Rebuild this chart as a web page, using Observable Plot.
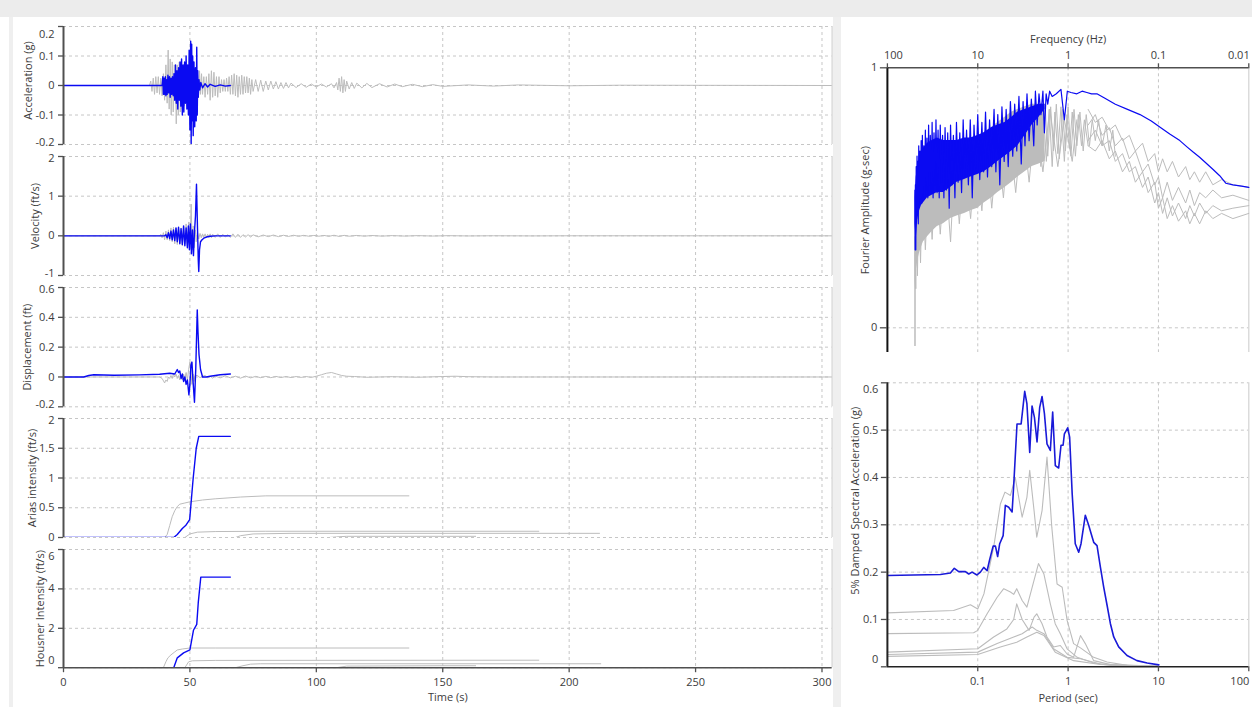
<!DOCTYPE html>
<html><head><meta charset="utf-8">
<script src="https://cdn.jsdelivr.net/npm/d3@7"></script>
<script src="https://cdn.jsdelivr.net/npm/@observablehq/plot@0.6"></script>
<style>
html,body{margin:0;padding:0;background:#fff;}
body{width:1252px;height:707px;overflow:hidden;position:relative;font-family:"Open Sans","Noto Sans",sans-serif;}
.bg{position:absolute;background:#ececec;}
</style></head><body>
<div class="bg" style="left:0;top:0;width:1252px;height:17px;"></div>
<div class="bg" style="left:9px;top:17px;width:4px;height:690px;background:#efefef;"></div>
<div class="bg" style="left:833px;top:17px;width:8px;height:690px;background:#efefef;"></div>
<script>
// ---------- tick labels ----------
const timeTicks = [0, 50, 100, 150, 200, 250, 300];
const accTicks = [-0.2, -0.1, 0, 0.1, 0.2];
const velTicks = [-1, 0, 1, 2];
const dispTicks = [-0.2, 0, 0.2, 0.4, 0.6];
const ariasTicks = [0, 0.5, 1, 1.5, 2];
const housnerTicks = [0, 2, 4, 6];
const freqTicks = [100, 10, 1, 0.1, 0.01];
const fourierTicks = [0, 1];
const periodTicks = [0.1, 1, 10, 100];
const saTicks = [0, 0.1, 0.2, 0.3, 0.4, 0.5, 0.6];

// ---------- acceleration (g) [t, value] ----------
const accBlue = [[0,0],[39,0],[39.3,0.03],[39.5,-0.03],[39.8,0.025],[40,-0.03],[40.3,0.03],[40.5,-0.035],[40.8,0.02],[41,-0.03],[41.3,0.035],[41.6,-0.025],[41.9,0.03],[42.2,-0.04],[42.5,0.025],[42.8,-0.03],[43.1,0.03],[43.4,-0.035],[43.7,0.04],[44,-0.05],[44.3,0.07],[44.6,-0.06],[44.9,0.05],[45.2,-0.08],[45.5,0.06],[45.8,-0.05],[46.1,0.08],[46.4,-0.07],[46.7,0.09],[47,-0.1],[47.3,0.07],[47.6,-0.09],[47.9,0.08],[48.2,-0.06],[48.5,0.1],[48.8,-0.08],[49.1,0.07],[49.4,-0.1],[49.7,0.12],[50,-0.15],[50.3,0.15],[50.5,-0.2],[50.7,0.14],[50.9,-0.12],[51.1,0.1],[51.3,-0.17],[51.6,0.08],[51.9,-0.14],[52.2,0.06],[52.5,-0.12],[52.7,0.13],[52.9,-0.1],[53.1,0.05],[53.3,-0.04],[53.6,0.02],[53.9,-0.015],[54.3,0.01],[55,-0.008],[56,0.006],[57,-0.005],[58,0.004],[60,-0.003],[62,0.002],[64,-0.002],[66,0]];
const accGray = [[0,0],[34,0],[34.5,0.015],[35,-0.02],[35.5,0.025],[36,-0.03],[36.5,0.03],[37,-0.025],[37.5,0.03],[38,-0.03],[38.5,0.025],[39,-0.035],[39.5,0.04],[40,-0.05],[40.5,0.07],[41,-0.06],[41.4,0.12],[41.8,-0.08],[42.2,0.09],[42.6,-0.1],[43,0.08],[43.4,-0.09],[43.8,0.07],[44.2,0.06],[44.6,-0.13],[45,0.07],[45.4,-0.1],[45.8,0.08],[46.2,-0.09],[46.6,0.06],[47,-0.08],[47.4,0.07],[47.8,-0.07],[48.2,0.06],[48.6,-0.06],[49,0.05],[49.4,-0.06],[49.8,0.06],[50.2,-0.07],[50.6,0.05],[51,-0.05],[51.4,0.05],[51.8,-0.06],[52.2,0.04],[52.6,-0.05],[53,0.04],[53.4,-0.04],[53.8,0.05],[54.2,-0.03],[54.6,0.04],[55,-0.03],[55.5,0.03],[56,-0.04],[56.5,0.03],[57,-0.03],[57.5,0.04],[58,-0.05],[58.5,0.05],[59,-0.04],[59.5,0.045],[60,-0.035],[60.5,0.03],[61,-0.04],[61.5,0.03],[62,-0.025],[62.5,0.02],[63,-0.02],[63.5,0.02],[64,-0.02],[64.5,0.025],[65,-0.02],[65.5,0.03],[66,-0.03],[66.5,0.035],[67,-0.03],[67.5,0.04],[68,-0.035],[68.5,0.035],[69,-0.04],[69.5,0.03],[70,-0.03],[70.5,0.035],[71,-0.03],[71.5,0.03],[72,-0.025],[72.5,0.03],[73,-0.025],[73.5,0.025],[74,-0.03],[74.5,0.02],[75,-0.02],[76,0.02],[77,-0.02],[78,0.018],[79,-0.02],[80,0.015],[81,-0.015],[82,0.015],[83,-0.012],[84,0.013],[85,-0.012],[86,0.01],[87,-0.01],[88,0.01],[89,-0.008],[90,0.008],[92,-0.007],[94,0.006],[96,-0.006],[98,0.005],[100,-0.005],[102,0.005],[104,-0.005],[106,0.006],[107,-0.008],[108,0.01],[108.5,-0.015],[109,0.025],[109.5,-0.02],[110,0.03],[110.5,-0.025],[111,0.02],[111.5,-0.02],[112,0.015],[113,-0.012],[114,0.01],[115,-0.01],[116,0.008],[118,-0.008],[120,0.007],[122,-0.007],[125,0.006],[128,-0.005],[131,0.005],[134,-0.004],[138,0.004],[142,-0.004],[146,0.003],[150,-0.003],[160,0.002],[170,-0.002],[180,0.002],[200,-0.001],[220,0.001],[304,0]];

// ---------- velocity (ft/s) ----------
const velBlue = [[0,0],[40,0],[40.5,0.03],[41,-0.05],[41.5,0.08],[42,-0.07],[42.5,0.12],[43,-0.1],[43.5,0.15],[44,-0.12],[44.5,0.2],[45,-0.15],[45.5,0.22],[46,-0.2],[46.5,0.18],[47,-0.22],[47.5,0.25],[48,-0.25],[48.5,0.2],[49,-0.3],[49.4,0.25],[49.8,-0.35],[50.2,0.3],[50.6,-0.45],[51,0.15],[51.4,-0.5],[51.8,0.1],[52.2,0.5],[52.6,1.3],[53,0.2],[53.3,-0.6],[53.5,-0.9],[53.8,-0.35],[54.2,-0.15],[54.8,-0.1],[55.5,-0.06],[56.5,-0.03],[58,-0.01],[60,0],[66,0]];
const velGray = [[0,0],[38,0],[38.5,0.04],[39,-0.05],[39.5,0.08],[40,-0.1],[40.5,0.12],[41,-0.1],[41.5,0.15],[42,-0.12],[42.5,0.2],[43,-0.15],[43.5,0.22],[44,-0.2],[44.5,0.2],[45,-0.22],[45.5,0.18],[46,-0.2],[46.5,0.2],[47,-0.25],[47.5,0.22],[48,-0.2],[48.5,0.3],[49,-0.25],[49.5,0.35],[50,-0.2],[50.5,0.8],[50.9,-0.35],[51.3,0.25],[51.7,-0.3],[52.1,0.15],[52.5,-0.15],[53,0.1],[53.5,-0.08],[54,0.06],[54.5,-0.05],[55,0.05],[55.5,-0.04],[56,0.05],[56.5,-0.05],[57,0.04],[57.5,-0.04],[58,0.05],[58.5,-0.05],[59,0.04],[60,-0.04],[61,0.05],[62,-0.04],[63,0.04],[64,-0.03],[65,0.03],[66,-0.04],[67,0.05],[68,-0.04],[69,0.04],[70,-0.04],[71,0.03],[72,-0.03],[73,0.03],[74,-0.03],[75,0.025],[77,-0.025],[79,0.02],[81,-0.02],[83,0.02],[85,-0.02],[87,0.015],[89,-0.015],[91,0.015],[93,-0.012],[95,0.012],[97,-0.01],[99,0.01],[101,-0.01],[103,0.01],[105,-0.012],[107,0.015],[109,-0.015],[111,0.012],[113,-0.01],[116,0.01],[119,-0.008],[122,0.008],[126,-0.007],[130,0.006],[135,-0.006],[140,0.005],[146,-0.005],[152,0.004],[160,-0.003],[170,0.002],[185,-0.002],[200,0.001],[304,0]];

// ---------- displacement (ft) ----------
const dispBlue = [[0,0],[8,0],[10,0.01],[12,0.015],[20,0.012],[30,0.014],[38,0.018],[42,0.025],[44,0.02],[45,0.05],[45.5,0.03],[46,0.04],[46.5,-0.01],[47,0.02],[47.5,-0.03],[48,0.0],[48.5,-0.05],[49,-0.02],[49.6,-0.12],[50,-0.05],[50.4,0.08],[50.8,0.1],[51.2,-0.02],[51.8,-0.17],[52.3,0.05],[52.9,0.45],[53.2,0.3],[53.6,0.15],[54.2,0.05],[55,0.0],[56.5,0.0],[58,0.005],[62,0.015],[66,0.02]];
const dispGray = [[0,0],[38,0],[39,-0.01],[40,-0.04],[40.5,-0.02],[41,-0.03],[41.5,0],[42,-0.01],[42.5,0.01],[43,-0.01],[43.5,0.02],[44,0],[44.5,0.02],[45,-0.01],[45.5,0.01],[46,-0.02],[46.5,0.01],[47,-0.02],[47.5,0.02],[48,-0.01],[48.5,0.03],[49,-0.02],[49.5,0.05],[50,0.1],[50.4,0.03],[50.8,-0.05],[51.2,0.02],[51.6,-0.03],[52,0.01],[53,0.01],[54,-0.005],[55,0.005],[56,0.01],[57,-0.005],[58,0.005],[59,-0.008],[60,0.006],[62,-0.006],[64,0.008],[66,-0.006],[68,0.005],[70,-0.008],[72,0.006],[74,-0.006],[76,0.004],[78,-0.005],[80,0.004],[82,-0.005],[84,0.004],[86,-0.004],[88,0.003],[90,-0.004],[92,0.003],[94,-0.003],[96,0.003],[98,-0.003],[100,0.005],[102,0.015],[104,0.025],[106,0.03],[108,0.02],[110,0.01],[112,0.005],[115,0.003],[120,-0.002],[130,0.002],[140,-0.002],[150,0.003],[155,0.005],[160,0.002],[170,0],[304,0]];

// ---------- Arias intensity (ft/s) ----------
const ariasBlue = [[0,0],[43.6,0],[45,0.05],[46,0.1],[47,0.15],[48.3,0.2],[49.9,0.3],[50.5,0.6],[51.3,1.0],[52.5,1.5],[53.5,1.7],[66,1.7]];
const ariasGray1 = [[0,0],[40,0],[41,0.05],[42,0.2],[43,0.35],[44,0.45],[45,0.52],[46,0.56],[48,0.58],[50,0.6],[55,0.63],[60,0.65],[70,0.68],[80,0.7],[100,0.7],[136.6,0.7]];
const ariasGray2 = [[0,0],[48,0],[50,0.06],[53,0.09],[60,0.1],[80,0.105],[188,0.105]];
const ariasGray3 = [[0,0],[68,0],[70,0.03],[75,0.06],[90,0.07],[212,0.07]];
const ariasGray4 = [[0,0],[105,0],[108,0.01],[112,0.02],[163,0.02]];

// ---------- Housner intensity (ft/s) ----------
const housnerBlue = [[0,0],[43.6,0],[45,0.5],[47.5,0.75],[50,0.9],[51.4,1.9],[52.7,2.2],[53.3,3.3],[54.3,4.6],[66,4.6]];
const housnerGray1 = [[0,0],[39.5,0],[40.5,0.3],[41.3,0.5],[42.5,0.65],[44,0.8],[45,0.9],[47,0.95],[50,1.0],[60,1.0],[136.6,1.0]];
const housnerGray2 = [[0,0],[48,0],[49.5,0.3],[51,0.35],[60,0.37],[188,0.38]];
const housnerGray3 = [[0,0],[68,0],[71,0.1],[74,0.18],[78,0.2],[90,0.2],[212.5,0.2]];
const housnerGray4 = [[0,0],[108,0],[112,0.08],[150,0.1],[163,0.1]];

// ---------- Fourier amplitude: [frequency Hz, amplitude] ----------
const fourierBandFreq = [49.5,48,46,44,42,40,36,32,28,24,20,17,14,12,10,8.5,7,6,5,4.2,3.6,3,2.5,2.1,1.8];
const fourierBlueLo = [0.40,0.34,0.42,0.45,0.47,0.48,0.50,0.51,0.52,0.52,0.54,0.56,0.57,0.58,0.59,0.60,0.62,0.64,0.66,0.68,0.70,0.74,0.78,0.81,0.84];
const fourierBlueHi = [0.50,0.58,0.62,0.65,0.67,0.69,0.71,0.72,0.73,0.72,0.72,0.72,0.73,0.73,0.74,0.75,0.77,0.78,0.79,0.81,0.83,0.84,0.85,0.86,0.86];
const fourierGrayFreq = [49.5,48,46,44,42,40,36,32,28,24,20,17,14,12,10,8.5,7,6,5,4.2,3.6,3,2.5,2.1,1.8];
const fourierGrayLo = [0.15,0.22,0.26,0.29,0.31,0.33,0.35,0.37,0.39,0.40,0.42,0.43,0.44,0.45,0.46,0.48,0.50,0.52,0.54,0.56,0.58,0.60,0.62,0.63,0.64];
const fourierGrayHi = [0.40,0.50,0.55,0.58,0.60,0.62,0.64,0.66,0.67,0.68,0.69,0.70,0.71,0.72,0.73,0.75,0.77,0.79,0.81,0.83,0.84,0.85,0.86,0.86,0.86];
const fourierBlue = [[49.6,0.53],[49.3,0.3],[49,0.55],[48.5,0.3],[48,0.62],[47.5,0.42],[47,0.66],[46.5,0.45],[46,0.64],[45.5,0.4],[45,0.7],[44.3,0.47],[43.6,0.68],[43,0.5],[42.3,0.72],[41.6,0.48],[41,0.74],[40.3,0.52],[39.5,0.7],[38.8,0.5],[38,0.76],[37.2,0.53],[36.5,0.73],[35.7,0.5],[35,0.78],[34.2,0.55],[33.5,0.74],[32.7,0.52],[32,0.79],[31.2,0.5],[30.5,0.75],[29.7,0.55],[29,0.8],[28.2,0.52],[27.5,0.76],[26.7,0.5],[26,0.78],[25.2,0.56],[24.5,0.74],[23.7,0.5],[23,0.77],[22.2,0.53],[21.5,0.75],[20.7,0.46],[20,0.78],[19.3,0.55],[18.6,0.74],[17.9,0.5],[17.2,0.79],[16.5,0.56],[15.8,0.75],[15.1,0.52],[14.5,0.8],[13.9,0.58],[13.3,0.76],[12.7,0.55],[12.1,0.8],[11.5,0.5],[11,0.78],[10.5,0.6],[10,0.82],[9.5,0.57],[9,0.79],[8.6,0.6],[8.2,0.83],[7.8,0.58],[7.4,0.8],[7,0.62],[6.6,0.84],[6.3,0.6],[6,0.82],[5.7,0.55],[5.4,0.85],[5.1,0.64],[4.85,0.84],[4.6,0.62],[4.35,0.87],[4.1,0.66],[3.9,0.86],[3.7,0.68],[3.5,0.89],[3.3,0.63],[3.15,0.87],[3.0,0.7],[2.85,0.9],[2.7,0.72],[2.55,0.88],[2.4,0.7],[2.3,0.91],[2.2,0.78],[2.1,0.9],[2.0,0.82],[1.9,0.91],[1.83,0.75],[1.75,0.9],[1.68,0.86],[1.6,0.91],[1.5,0.89],[1.35,0.9],[1.2,0.917],[1.1,0.8],[1.02,0.91],[0.93,0.905],[0.8,0.9],[0.7,0.91],[0.62,0.905],[0.55,0.9],[0.48,0.9],[0.4,0.885],[0.3,0.86],[0.22,0.84],[0.16,0.82],[0.12,0.795],[0.095,0.77],[0.075,0.745],[0.058,0.72],[0.048,0.695],[0.041,0.675],[0.035,0.656],[0.03,0.635],[0.025,0.61],[0.021,0.585],[0.018,0.556],[0.015,0.55],[0.012,0.545],[0.01,0.54]];
const fourierGraySpikes = [[49.7,0.35],[49.5,-0.07],[49.2,0.3],[48.5,0.15],[47.5,0.45],[46.5,0.2],[45,0.5],[43,0.25],[41,0.55],[38,0.3],[35,0.6],[32,0.34],[29,0.62],[26,0.36],[23,0.63],[20,0.33],[18,0.65],[16,0.4],[14,0.66],[12,0.42],[10.5,0.68],[9,0.45],[8,0.7],[7,0.46],[6,0.72],[5.2,0.5],[4.5,0.76],[3.8,0.52],[3.2,0.8],[2.7,0.56],[2.3,0.82],[1.9,0.6],[1.6,0.84],[1.3,0.62],[1.1,0.8],[0.9,0.64],[0.8,0.8]];
const fourierGrayMid1 = [[2.5,0.84],[2.3,0.66],[2.1,0.85],[1.95,0.64],[1.8,0.86],[1.68,0.66],[1.56,0.85],[1.45,0.68],[1.35,0.86],[1.25,0.65],[1.15,0.84],[1.07,0.68],[1.0,0.85],[0.93,0.66],[0.86,0.84],[0.8,0.7],[0.74,0.83],[0.68,0.68],[0.63,0.82],[0.58,0.7],[0.54,0.8],[0.5,0.72],[0.46,0.8],[0.42,0.7],[0.38,0.78],[0.35,0.68],[0.32,0.76],[0.3,0.66]];
const fourierGrayMid2 = [[2.4,0.7],[2.2,0.83],[2.0,0.62],[1.87,0.82],[1.74,0.64],[1.62,0.84],[1.5,0.62],[1.4,0.83],[1.3,0.67],[1.2,0.85],[1.1,0.64],[1.03,0.82],[0.96,0.69],[0.9,0.83],[0.83,0.66],[0.77,0.82],[0.71,0.7],[0.66,0.8],[0.6,0.7]];
const fourierGray1 = [[0.6,0.84],[0.5,0.79],[0.42,0.81],[0.35,0.76],[0.3,0.78],[0.25,0.72],[0.21,0.74],[0.18,0.68],[0.15,0.71],[0.13,0.64],[0.11,0.67],[0.1,0.6],[0.09,0.65],[0.08,0.6],[0.07,0.64],[0.06,0.58],[0.05,0.62],[0.045,0.57],[0.04,0.6],[0.035,0.56],[0.03,0.6],[0.025,0.55],[0.02,0.57],[0.015,0.55],[0.01,0.54]];
const fourierGray2 = [[0.6,0.78],[0.5,0.82],[0.42,0.74],[0.35,0.77],[0.3,0.7],[0.25,0.73],[0.21,0.65],[0.18,0.68],[0.15,0.6],[0.13,0.63],[0.11,0.55],[0.1,0.58],[0.09,0.5],[0.08,0.56],[0.07,0.49],[0.06,0.54],[0.05,0.48],[0.045,0.53],[0.04,0.47],[0.035,0.52],[0.03,0.5],[0.025,0.53],[0.02,0.5],[0.015,0.51],[0.01,0.49]];
const fourierGray3 = [[0.6,0.72],[0.5,0.76],[0.42,0.7],[0.35,0.72],[0.3,0.64],[0.25,0.67],[0.21,0.6],[0.18,0.62],[0.15,0.54],[0.13,0.58],[0.11,0.48],[0.1,0.52],[0.09,0.44],[0.08,0.5],[0.07,0.43],[0.06,0.48],[0.05,0.42],[0.045,0.47],[0.04,0.43],[0.035,0.48],[0.03,0.44],[0.025,0.47],[0.02,0.45],[0.015,0.46],[0.01,0.47]];
const fourierGray4 = [[0.6,0.7],[0.5,0.68],[0.42,0.72],[0.35,0.65],[0.3,0.68],[0.25,0.6],[0.21,0.64],[0.18,0.56],[0.15,0.6],[0.13,0.52],[0.11,0.56],[0.1,0.46],[0.09,0.5],[0.08,0.42],[0.07,0.47],[0.06,0.41],[0.05,0.45],[0.045,0.4],[0.04,0.44],[0.035,0.4],[0.03,0.45],[0.025,0.42],[0.02,0.44],[0.015,0.42],[0.01,0.44]];

// ---------- 5% damped spectral acceleration: [period s, g] ----------
const saBlue = [[0.01,0.193],[0.0386,0.195],[0.0498,0.198],[0.055,0.208],[0.0616,0.201],[0.073,0.201],[0.0795,0.196],[0.0866,0.2],[0.098,0.194],[0.107,0.2],[0.1165,0.21],[0.127,0.203],[0.135,0.225],[0.148,0.255],[0.157,0.255],[0.166,0.233],[0.175,0.26],[0.191,0.277],[0.202,0.341],[0.22,0.337],[0.24,0.327],[0.25,0.383],[0.272,0.513],[0.302,0.513],[0.331,0.582],[0.35,0.556],[0.376,0.453],[0.399,0.551],[0.424,0.527],[0.453,0.475],[0.485,0.548],[0.515,0.571],[0.547,0.535],[0.584,0.471],[0.636,0.457],[0.675,0.538],[0.722,0.425],[0.786,0.42],[0.835,0.468],[0.88,0.468],[0.91,0.492],[0.99,0.505],[1.04,0.485],[1.11,0.365],[1.2,0.26],[1.31,0.242],[1.39,0.26],[1.55,0.32],[1.69,0.299],[1.8,0.281],[1.92,0.263],[2.09,0.256],[2.28,0.21],[2.48,0.168],[2.7,0.13],[2.94,0.091],[3.2,0.063],[3.63,0.042],[4.49,0.024],[5.78,0.013],[7.5,0.008],[10.1,0.004]];
const saGray1 = [[0.01,0.114],[0.054,0.119],[0.083,0.131],[0.1,0.122],[0.117,0.154],[0.15,0.253],[0.178,0.344],[0.2,0.369],[0.23,0.362],[0.26,0.4],[0.31,0.316],[0.35,0.358],[0.376,0.415],[0.42,0.33],[0.45,0.274],[0.515,0.33],[0.584,0.443],[0.66,0.295],[0.755,0.175],[0.86,0.168],[0.975,0.098],[1.15,0.049],[1.37,0.04],[1.92,0.02],[2.7,0.01],[4.5,0.003],[10,0.001]];
const saGray2 = [[0.01,0.07],[0.09,0.072],[0.1,0.077],[0.127,0.112],[0.164,0.147],[0.194,0.165],[0.23,0.158],[0.25,0.153],[0.27,0.165],[0.31,0.14],[0.35,0.126],[0.4,0.168],[0.47,0.218],[0.54,0.196],[0.636,0.133],[0.72,0.091],[0.82,0.07],[0.975,0.038],[1.26,0.02],[1.92,0.008],[3.2,0.002],[10,0.001]];
const saGray3 = [[0.01,0.031],[0.1,0.038],[0.15,0.063],[0.21,0.08],[0.25,0.1],[0.27,0.133],[0.31,0.1],[0.37,0.077],[0.42,0.105],[0.45,0.112],[0.515,0.091],[0.584,0.063],[0.69,0.042],[0.82,0.045],[0.975,0.027],[1.15,0.02],[1.37,0.066],[1.55,0.049],[1.92,0.013],[3.2,0.003],[10,0.001]];
const saGray4 = [[0.01,0.026],[0.1,0.031],[0.164,0.049],[0.25,0.063],[0.31,0.07],[0.4,0.084],[0.45,0.077],[0.54,0.07],[0.69,0.038],[0.975,0.02],[1.37,0.017],[2.28,0.006],[10,0.001]];
const saGray5 = [[0.01,0.022],[0.1,0.026],[0.178,0.042],[0.27,0.052],[0.35,0.063],[0.45,0.073],[0.54,0.066],[0.72,0.031],[1.15,0.013],[2.28,0.005],[10,0.001]];

// ---------- styling ----------
const FONT = '"Open Sans","Noto Sans",sans-serif';
const BLUE = "#0a0af2";
const GRAY = "#bcbcbc";
const GRID = "#c6c6c6";
const FRAME = "#d2d2d2";
const AXIS = "#505050";
const TEXT = "#3c3c3c";
const gridStyle = {stroke: GRID, strokeOpacity: 1, strokeDasharray: "3,3", strokeWidth: 1};
const fmt = d => String(d);
const P = d => d[0], V = d => d[1];

function place(node, left, top) {
  const d = document.createElement("div");
  d.style.cssText = `position:absolute;left:${left}px;top:${top}px;`;
  d.appendChild(node);
  document.body.appendChild(d);
}

// y axis: ticks + labels; the extreme labels may be nudged inward
function yAxisMarks(ticks, tickSize, tickPadding, topShift = 0, botShift = 0) {
  const lo = d3.min(ticks), hi = d3.max(ticks);
  const shifted = t => (t === hi && topShift) || (t === lo && botShift);
  const base = {anchor: "left", label: null, fontSize: 11, fill: TEXT, stroke: AXIS, strokeWidth: 1.3};
  const marks = [Plot.axisY(ticks, {...base, tickSize, tickPadding, tickFormat: d => shifted(d) ? "" : fmt(d)})];
  if (topShift) marks.push(Plot.axisY([hi], {...base, tickSize: 0, tickPadding: tickSize + tickPadding, tickFormat: fmt, dy: topShift}));
  if (botShift) marks.push(Plot.axisY([lo], {...base, tickSize: 0, tickPadding: tickSize + tickPadding, tickFormat: fmt, dy: -botShift}));
  return marks;
}

// x axis: ticks + labels; some labels may be nudged horizontally
function xAxisMarks(ticks, anchor, tickSize, tickPadding, shifts = new Map()) {
  const base = {anchor, label: null, fontSize: 11, fill: TEXT, stroke: AXIS, strokeWidth: 1.3};
  const marks = [Plot.axisX(ticks, {...base, tickSize, tickPadding, tickFormat: d => shifts.has(d) ? "" : fmt(d)})];
  for (const [t, dx] of shifts) marks.push(Plot.axisX([t], {...base, tickSize: 0, tickPadding: tickSize + tickPadding, tickFormat: fmt, dx}));
  return marks;
}

function yTitle(label, dx, dy = 0) {
  return Plot.text([label], {text: d => d, frameAnchor: "left", textAnchor: "middle", lineAnchor: "middle", rotate: -90, dx, dy, fill: TEXT, fontSize: 11});
}

const plotStyle = {fontFamily: FONT, fontSize: "11px", color: TEXT, background: "transparent", overflow: "visible", maxWidth: "none"};

function leftPanel(cfg) {
  const {top, bottom, domain, ticks, label, labelDx, labelDy = 0, topShift = 0, botShift = 0, blue, grays, last} = cfg;
  const mt = 10, mb = last ? 707 - bottom : 10;
  const marks = [
    Plot.gridX(timeTicks.filter(t => t > 0), gridStyle),
    Plot.gridY(ticks, gridStyle),
    Plot.ruleX([304], {stroke: FRAME, strokeWidth: 1.2}),
    ...grays.map(g => Plot.line(g, {x: P, y: V, stroke: GRAY, strokeWidth: 1, clip: true})),
    Plot.line(blue, {x: P, y: V, stroke: BLUE, strokeWidth: 1.4, clip: true}),
    Plot.ruleX([0], {stroke: AXIS, strokeWidth: 2}),
    ...yAxisMarks(ticks, 5, 4, topShift, botShift),
    yTitle(label, labelDx, labelDy)
  ];
  if (last) {
    marks.push(Plot.ruleY([domain[0]], {stroke: AXIS, strokeWidth: 1.6}));
    marks.push(...xAxisMarks(timeTicks, "bottom", 5, 5));
    marks.push(Plot.text(["Time (s)"], {text: d => d, frameAnchor: "bottom", dy: 33, fill: TEXT, fontSize: 11}));
  }
  const svg = Plot.plot({
    width: 840, height: bottom - top + mt + mb,
    marginLeft: 63, marginRight: 8.4, marginTop: mt, marginBottom: mb,
    x: {domain: [0, 304], axis: null},
    y: {domain, axis: null},
    style: plotStyle,
    marks
  });
  place(svg, 0, top - mt);
}

leftPanel({top: 26.3, bottom: 144.3, domain: [-0.2, 0.2], ticks: accTicks, label: "Acceleration (g)", labelDx: -35, labelDy: -5, topShift: 8, botShift: 2, blue: accBlue, grays: [accGray]});
leftPanel({top: 156, bottom: 275, domain: [-1, 2], ticks: velTicks, label: "Velocity (ft/s)", labelDx: -28, topShift: 2, botShift: 2, blue: velBlue, grays: [velGray]});
leftPanel({top: 286.7, bottom: 406, domain: [-0.2, 0.6], ticks: dispTicks, label: "Displacement (ft)", labelDx: -36, topShift: 2, botShift: 2, blue: dispBlue, grays: [dispGray]});
leftPanel({top: 417.7, bottom: 536.7, domain: [0, 2], ticks: ariasTicks, label: "Arias intensity (ft/s)", labelDx: -31, topShift: 2, blue: ariasBlue, grays: [ariasGray4, ariasGray3, ariasGray2, ariasGray1]});
leftPanel({top: 548.5, bottom: 666.7, domain: [0, 6], ticks: housnerTicks, label: "Housner Intensity (ft/s)", labelDx: -23, topShift: 7, botShift: 7, blue: housnerBlue, grays: [housnerGray4, housnerGray3, housnerGray2, housnerGray1], last: true});

// ---------- Fourier panel ----------
{
  const mt = 67.3, h = 356;
  const svg = Plot.plot({
    width: 407, height: h,
    marginLeft: 41.9, marginRight: 3.7, marginTop: mt, marginBottom: 4,
    x: {type: "log", domain: [100, 0.01], axis: null},
    y: {domain: [-0.095, 1], axis: null},
    style: plotStyle,
    marks: [
      Plot.gridX([10, 1, 0.1], gridStyle),
      Plot.gridY([0], gridStyle),
      Plot.ruleX([0.01], {stroke: FRAME, strokeWidth: 1.2}),
      Plot.areaY(fourierGrayFreq, {x: d => d, y1: (d, i) => fourierGrayLo[i], y2: (d, i) => fourierGrayHi[i], fill: GRAY}),
      ...[fourierGraySpikes, fourierGrayMid1, fourierGrayMid2, fourierGray1, fourierGray2, fourierGray3, fourierGray4].map(g => Plot.line(g, {x: P, y: V, stroke: GRAY, strokeWidth: 1})),
      Plot.areaY(fourierBandFreq, {x: d => d, y1: (d, i) => fourierBlueLo[i], y2: (d, i) => fourierBlueHi[i], fill: BLUE}),
      Plot.line(fourierBlue, {x: P, y: V, stroke: BLUE, strokeWidth: 1.2}),
      Plot.ruleY([1], {stroke: AXIS, strokeWidth: 1.6}),
      Plot.ruleX([100], {stroke: "#111", strokeWidth: 2}),
      ...xAxisMarks(freqTicks, "top", 5, 4, new Map([[100, 6], [0.01, -10]])),
      Plot.text(["Frequency (Hz)"], {text: d => d, frameAnchor: "top", dy: -33, fill: TEXT, fontSize: 11}),
      ...yAxisMarks(fourierTicks, 7, 3),
      yTitle("Fourier Amplitude (g-sec)", -22)
    ]
  });
  place(svg, 845, 0);
}

// ---------- Spectral acceleration panel ----------
{
  const top = 382.3, bottom = 666.3, svgTop = 370;
  const svg = Plot.plot({
    width: 407, height: 707 - svgTop,
    marginLeft: 41.9, marginRight: 3.7, marginTop: top - svgTop, marginBottom: 707 - bottom,
    x: {type: "log", domain: [0.01, 100], axis: null},
    y: {domain: [0, 0.6], axis: null},
    style: plotStyle,
    marks: [
      Plot.gridX([0.1, 1, 10], gridStyle),
      Plot.gridY(saTicks.filter(t => t > 0), gridStyle),
      Plot.ruleX([100], {stroke: FRAME, strokeWidth: 1.2}),
      ...[saGray5, saGray4, saGray3, saGray2, saGray1].map(g => Plot.line(g, {x: P, y: V, stroke: GRAY, strokeWidth: 1.1, clip: true})),
      Plot.line(saBlue, {x: P, y: V, stroke: "#1a1ad8", strokeWidth: 1.6, clip: true}),
      Plot.ruleX([0.01], {stroke: "#222", strokeWidth: 2}),
      Plot.ruleY([0], {stroke: "#222", strokeWidth: 1.6}),
      ...xAxisMarks(periodTicks, "bottom", 5, 5, new Map([[100, -9]])),
      Plot.text(["Period (sec)"], {text: d => d, frameAnchor: "bottom", dy: 35, fill: TEXT, fontSize: 11}),
      ...yAxisMarks(saTicks, 6, 3, 7, 7),
      yTitle("5% Damped Spectral Acceleration (g)", -32, -24)
    ]
  });
  place(svg, 845, svgTop);
}
</script>
</body></html>
